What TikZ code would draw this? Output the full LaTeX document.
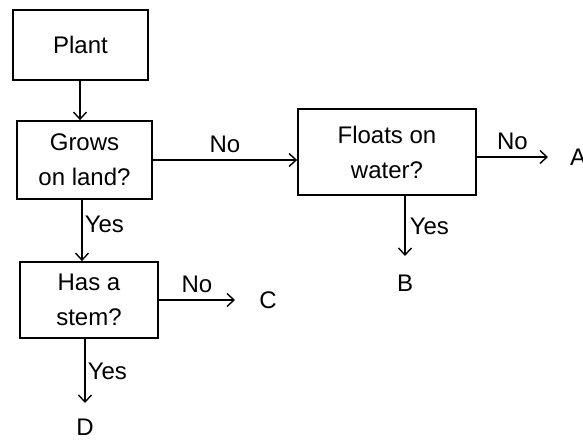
\documentclass[tikz,border=0pt]{standalone}
\usepackage{fontspec}
\setmainfont{Liberation Sans}
\usetikzlibrary{arrows.meta}
\begin{document}
\begin{tikzpicture}[x=1pt,y=-1pt,
  box/.style={draw,line width=1.8pt,minimum width=#1,align=center,inner sep=0pt,
    font=\fontsize{24}{35}\selectfont},
  lbl/.style={font=\fontsize{24}{28}\selectfont,inner sep=0pt},
  conn/.style={line width=1.6pt,-{Straight Barb[length=7pt,width=13pt,line width=1.4pt]}}]
\useasboundingbox (0,0) rectangle (583,441);
\node[box=135pt,minimum height=70pt] (plant) at (80.5,45) {Plant};
\node[box=135pt,minimum height=78pt] (grows) at (84.5,160) {Grows\\on land?};
\node[box=178pt,minimum height=86pt] (floats) at (387,152) {Floats on\\water?};
\node[box=138pt,minimum height=76pt] (stem) at (89,300) {Has a\\stem?};
\node[lbl,anchor=west] (A) at (570,157) {A};
\node[lbl] (B) at (405,283) {B};
\node[lbl] (C) at (268,300) {C};
\node[lbl] (D) at (85,427) {D};
\coordinate (ae) at (548,157);
\coordinate (be) at (405,256);
\coordinate (ce) at (235,300);
\coordinate (de) at (85,403);
\draw[conn] (plant.south -| 80,0) -- (grows.north -| 80,0);
\draw[conn] (grows.east |- 0,160) -- (floats.west |- 0,160) node[lbl,midway,above=6pt] (n1) {No};
\draw[conn] (floats.east |- ae) -- (ae) node[lbl,midway,above=6pt] (n2) {No};
\draw[conn] (floats.south -| be) -- (be) node[lbl,midway,right=4pt] (y1) {Yes};
\draw[conn] (grows.south -| 82,0) -- (stem.north -| 82,0) node[lbl,pos=0.4,right=2pt] (y2) {Yes};
\draw[conn] (stem.east |- ce) -- (ce) node[lbl,midway,above=6pt] (n3) {No};
\draw[conn] (stem.south -| de) -- (de) node[lbl,midway,right=2pt] (y3) {Yes};
\end{tikzpicture}
\end{document}
